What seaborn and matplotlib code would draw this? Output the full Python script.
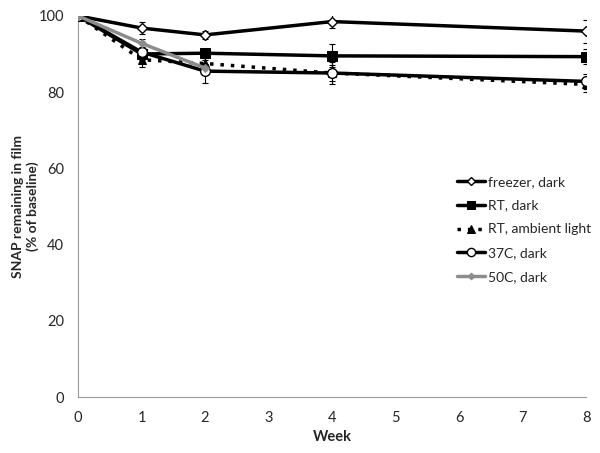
import numpy as np
import pandas as pd
import matplotlib
matplotlib.use("Agg")
import matplotlib.pyplot as plt
import seaborn as sns

weeks = [0, 1, 2, 4, 8]
freezer = [100, 96.8, 95.0, 98.5, 96.0]
freezer_err = [0, 1.5, 1.0, 1.8, 3.0]
rt_dark = [100, 90.0, 90.2, 89.5, 89.3]
rt_dark_err = [0, 1.5, 1.0, 3.0, 2.0]
rt_light = [100, 88.5, 87.5, 85.0, 82.0]
rt_light_err = [0, 2.0, 1.5, 2.0, 2.0]
c37 = [100, 90.5, 85.5, 85.0, 82.8]
c37_err = [0, 2.5, 3.0, 3.0, 2.0]
weeks_50 = [0, 1, 2]
c50 = [100, 92.8, 86.3]
c50_err = [0, 1.0, 1.0]

sns.set_style("white")
plt.rcParams['font.family'] = ['Lato', 'DejaVu Sans']

fig = plt.figure(figsize=(6, 4.53), dpi=100)
ax = fig.add_axes([0.13, 0.1236, 0.847, 0.8414])

series = [
    ("freezer, dark", weeks, freezer, freezer_err, dict(color="black", ls="-", lw=2.5, marker="D", ms=5, mfc="white", mec="black", mew=1)),
    ("RT, dark", weeks, rt_dark, rt_dark_err, dict(color="black", ls="-", lw=2.5, marker="s", ms=7, mfc="black", mec="black")),
    ("RT, ambient light", weeks, rt_light, rt_light_err, dict(color="black", ls=(0, (1, 2)), lw=2.5, marker="^", ms=6, mfc="black", mec="black")),
    ("37C, dark", weeks, c37, c37_err, dict(color="black", ls="-", lw=2.5, marker="o", ms=7, mfc="white", mec="black", mew=1)),
    ("50C, dark", weeks_50, c50, c50_err, dict(color="#8c8c8c", ls="-", lw=2.5, marker="D", ms=4, mfc="#8c8c8c", mec="#8c8c8c")),
]

for label, x, y, err, style in series:
    df = pd.DataFrame({"week": x, "val": y})
    ax.errorbar(x, y, yerr=err, fmt="none", ecolor="black", elinewidth=0.8, capsize=2.5, capthick=0.8, zorder=2)
    sns.lineplot(data=df, x="week", y="val", ax=ax, label=label, zorder=3, **style)

ax.set_xlim(0, 8)
ax.set_ylim(0, 100)
ax.set_xticks(range(0, 9))
ax.set_yticks(range(0, 101, 20))
for s in ["top", "right"]:
    ax.spines[s].set_visible(False)
for s in ["left", "bottom"]:
    ax.spines[s].set_color("#999999")
    ax.spines[s].set_linewidth(0.8)
ax.tick_params(axis="both", direction="out", length=4, color="#999999", labelsize=10.5, pad=6)
ax.set_xlabel("Week", fontsize=10.5, fontweight="bold")
ax.set_ylabel("SNAP remaining in film\n(% of baseline)", fontsize=10, fontweight="bold", labelpad=0)

leg = ax.legend(loc="upper left", bbox_to_anchor=(0.735, 0.595), frameon=False, fontsize=10,
                handlelength=2.0, handletextpad=0.2, labelspacing=0.85, borderaxespad=0,
                markerscale=0.85)

fig.savefig("out.png", dpi=100)
